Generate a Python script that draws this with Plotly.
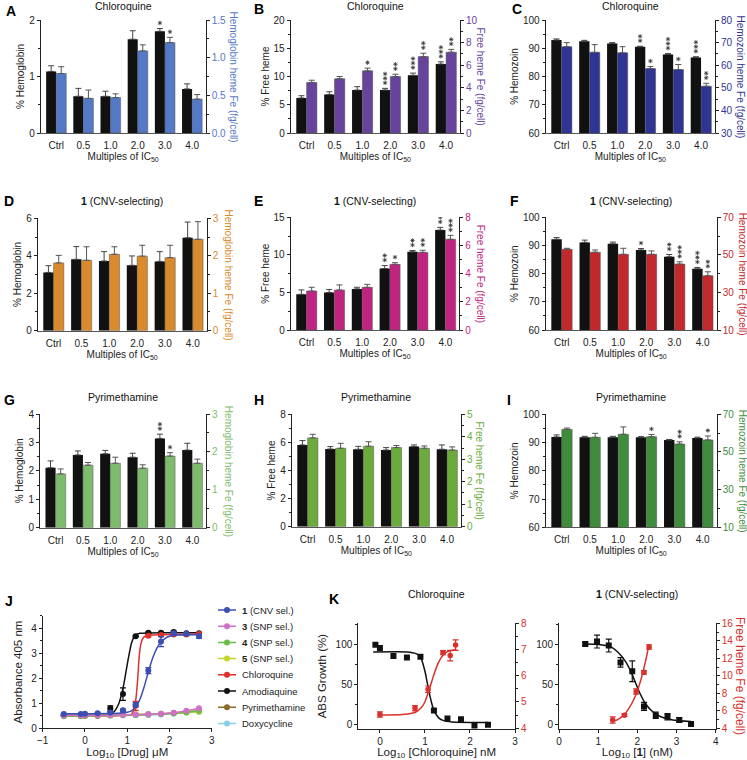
import plotly.graph_objects as go

W, H = 747, 760
FONT = "Liberation Sans, Arial, sans-serif"

categories = ["Ctrl", "0.5", "1.0", "2.0", "3.0", "4.0"]
no_stars = [0, 0, 0, 0, 0, 0]

# A - chloroquine, hemoglobin
A_black = [1.09, 0.65, 0.65, 1.66, 1.80, 0.78]
A_black_err = [0.10, 0.14, 0.09, 0.15, 0.05, 0.09]
A_fe = [0.79, 0.46, 0.47, 1.09, 1.20, 0.45]
A_fe_err = [0.09, 0.11, 0.05, 0.08, 0.07, 0.06]
A_black_stars = [0, 0, 0, 0, 1, 0]
A_fe_stars = [0, 0, 0, 0, 1, 0]

# B - chloroquine, free heme
B_black = [6.2, 6.8, 7.6, 7.6, 10.2, 12.2]
B_black_err = [0.4, 0.5, 0.6, 0.3, 0.4, 0.4]
B_fe = [4.47, 4.8, 5.5, 5.0, 6.76, 7.15]
B_fe_err = [0.2, 0.2, 0.24, 0.2, 0.3, 0.25]
B_black_stars = [0, 0, 0, 3, 3, 3]
B_fe_stars = [0, 0, 1, 2, 2, 2]

# C - chloroquine, hemozoin
C_black = [92.9, 92.5, 91.7, 90.5, 87.8, 86.7]
C_black_err = [0.4, 0.3, 0.3, 0.2, 0.3, 0.3]
C_fe = [68.2, 65.7, 65.5, 58.5, 58.1, 50.7]
C_fe_err = [1.8, 3.4, 2.7, 0.9, 2.2, 1.3]
C_black_stars = [0, 0, 0, 2, 3, 3]
C_fe_stars = [0, 0, 0, 1, 1, 2]

# D - compound 1, hemoglobin
D_black = [3.11, 3.81, 3.72, 3.49, 3.70, 4.96]
D_black_err = [0.36, 0.68, 0.5, 0.5, 0.52, 0.84]
D_fe = [1.81, 1.88, 2.04, 1.99, 1.95, 2.44]
D_fe_err = [0.2, 0.36, 0.2, 0.29, 0.33, 0.47]

# E - compound 1, free heme
E_black = [4.75, 5.0, 5.47, 8.18, 10.4, 13.3]
E_black_err = [0.58, 0.4, 0.22, 0.4, 0.18, 0.36]
E_fe = [2.77, 2.84, 3.03, 4.66, 5.51, 6.44]
E_fe_err = [0.26, 0.36, 0.21, 0.12, 0.15, 0.28]
E_black_stars = [0, 0, 0, 2, 2, 4]
E_fe_stars = [0, 0, 0, 1, 2, 3]

# F - compound 1, hemozoin
F_black = [92.2, 91.1, 90.6, 88.4, 86.0, 81.7]
F_black_err = [0.6, 0.8, 0.6, 0.5, 0.8, 0.5]
F_fe = [53.0, 51.4, 50.3, 50.3, 45.1, 38.9]
F_fe_err = [0.5, 1.2, 3.2, 1.8, 1.2, 2.1]
F_black_stars = [0, 0, 0, 1, 2, 3]
F_fe_stars = [0, 0, 0, 0, 3, 2]

# G - pyrimethamine, hemoglobin
G_black = [2.11, 2.56, 2.60, 2.48, 3.14, 2.73]
G_black_err = [0.24, 0.14, 0.12, 0.14, 0.15, 0.24]
G_fe = [1.42, 1.65, 1.70, 1.57, 1.89, 1.70]
G_fe_err = [0.13, 0.07, 0.16, 0.09, 0.09, 0.11]
G_black_stars = [0, 0, 0, 0, 2, 0]
G_fe_stars = [0, 0, 0, 0, 1, 0]

# H - pyrimethamine, free heme
H_black = [5.82, 5.53, 5.51, 5.46, 5.70, 5.51]
H_black_err = [0.31, 0.17, 0.21, 0.17, 0.12, 0.31]
H_fe = [3.95, 3.49, 3.58, 3.52, 3.49, 3.41]
H_fe_err = [0.16, 0.22, 0.2, 0.09, 0.1, 0.14]

# I - pyrimethamine, hemozoin
I_black = [92.0, 91.9, 91.9, 91.9, 90.9, 91.6]
I_black_err = [0.7, 0.3, 0.3, 0.2, 0.2, 0.3]
I_fe = [62.0, 57.8, 59.4, 58.1, 54.2, 56.4]
I_fe_err = [0.7, 2.1, 3.9, 1.2, 1.2, 2.1]
I_fe_stars = [0, 0, 0, 1, 2, 1]

# J - absorbance vs log10 [drug]
J_x = [-0.5, -0.1, 0.0, 0.3, 0.6, 0.9, 1.2, 1.5, 1.8, 2.1, 2.4, 2.7]
J_cmpd1 = [0.57, 0.57, 0.58, 0.60, 0.63, 0.72, 0.94, 2.31, 3.47, 3.80, 3.78, 3.68]
J_cmpd1_err = [0.02, 0.02, 0.02, 0.02, 0.03, 0.05, 0.08, 0.12, 0.2, 0.05, 0.04, 0.08]
J_cmpd3 = [0.52, 0.52, 0.52, 0.52, 0.53, 0.54, 0.55, 0.56, 0.58, 0.62, 0.70, 0.80]
J_cmpd4 = [0.50, 0.50, 0.50, 0.51, 0.52, 0.53, 0.53, 0.55, 0.57, 0.60, 0.64, 0.70]
J_cmpd5 = [0.52, 0.52, 0.52, 0.52, 0.53, 0.54, 0.55, 0.56, 0.58, 0.60, 0.63, 0.66]
J_chloroquine = [0.50, 0.50, 0.50, 0.50, 0.52, 0.55, 0.90, 3.70, 3.73, 3.75, 3.75, 3.77]
J_chloroquine_err = [0.02, 0.02, 0.02, 0.02, 0.02, 0.03, 0.18, 0.05, 0.04, 0.04, 0.04, 0.04]
J_amodiaquine = [0.52, 0.52, 0.52, 0.52, 0.80, 1.37, 3.68, 3.82, 3.82, 3.85, 3.80, 3.80]
J_amodiaquine_err = [0.02, 0.02, 0.02, 0.02, 0.10, 0.25, 0.03, 0.03, 0.03, 0.04, 0.03, 0.03]
J_pyrimethamine = [0.52, 0.52, 0.52, 0.53, 0.53, 0.54, 0.55, 0.56, 0.58, 0.61, 0.65, 0.70]
J_doxycycline = [0.48, 0.48, 0.49, 0.49, 0.50, 0.51, 0.52, 0.53, 0.55, 0.58, 0.62, 0.66]
# fitted curves
J_fit1_x = [-0.5, 0.8, 1.0, 1.1, 1.2, 1.3, 1.4, 1.5, 1.6, 1.7, 1.8, 1.9, 2.0, 2.2, 2.7]
J_fit1_y = [0.58, 0.60, 0.64, 0.70, 0.85, 1.15, 1.65, 2.25, 2.80, 3.20, 3.45, 3.60, 3.68, 3.73, 3.74]
J_fitcq_x = [-0.5, 1.0, 1.1, 1.15, 1.2, 1.25, 1.28, 1.32, 1.38, 1.45, 1.6, 2.7]
J_fitcq_y = [0.50, 0.52, 0.56, 0.72, 1.10, 2.00, 2.80, 3.35, 3.62, 3.70, 3.73, 3.77]
J_fitaq_x = [-0.5, 0.5, 0.6, 0.7, 0.8, 0.85, 0.9, 0.95, 1.0, 1.05, 1.1, 1.15, 1.2, 1.3, 2.7]
J_fitaq_y = [0.52, 0.53, 0.56, 0.68, 0.98, 1.25, 1.60, 2.05, 2.55, 3.00, 3.40, 3.62, 3.73, 3.80, 3.82]

# K - growth and free heme vs log10 concentration
K1_x = [-0.1, 0.0, 0.3, 0.6, 0.9, 1.2, 1.5, 1.8, 2.1, 2.4]
K1_growth = [99, 95, 85, 83, 84, 17, 7, 6, -2, -1]
K1_fit_x = [-0.15, 0.6, 0.8, 0.9, 1.0, 1.05, 1.1, 1.15, 1.2, 1.3, 1.4, 1.6, 2.4]
K1_fit_y = [90, 90, 88, 84, 66, 52, 38, 26, 17, 8, 4.5, 2.5, 2]
K1_heme_x = [0.0, 0.78, 1.07, 1.4, 1.56, 1.68]
K1_heme = [4.52, 4.76, 5.49, 6.88, 6.77, 7.17]
K1_heme_err = [0.1, 0.1, 0.12, 0.08, 0.2, 0.2]
K1_heme_fit_x = [0.0, 0.5, 0.8, 0.9, 1.0, 1.1, 1.2, 1.3, 1.4, 1.5, 1.7]
K1_heme_fit_y = [4.50, 4.52, 4.62, 4.75, 5.0, 5.5, 6.05, 6.5, 6.78, 6.92, 7.0]

K2_x = [0.67, 0.97, 1.27, 1.57, 1.87, 2.17, 2.47, 2.77, 3.07, 3.37]
K2_growth = [100, 103, 98, 77, 66, 22, 11, 9, 5, 0]
K2_growth_err = [2, 8, 8, 6, 13, 5, 4, 4, 3, 1]
K2_fit_x = [0.67, 1.0, 1.3, 1.5, 1.7, 1.85, 1.95, 2.05, 2.2, 2.4, 2.6, 2.9, 3.37]
K2_fit_y = [100, 99.5, 97, 90, 78, 64, 52, 40, 26, 15, 9, 5, 3]
K2_heme_x = [1.37, 1.67, 1.97, 2.17, 2.3]
K2_heme = [4.95, 5.5, 8.2, 10.4, 13.3]
K2_heme_err = [0.35, 0.15, 0.3, 0.2, 0.25]
K2_heme_fit_x = [1.37, 1.5, 1.65, 1.8, 1.9, 2.0, 2.1, 2.2, 2.3]
K2_heme_fit_y = [4.8, 5.0, 5.5, 6.4, 7.2, 8.3, 9.7, 11.5, 13.6]


def ax_id(kind, i):
    return kind if i == 1 else f"{kind}{i}"


def ax_key(kind, i):
    return kind + "axis" + ("" if i == 1 else str(i))


def px(v):
    return v / W


def py(v):
    return 1 - v / H


axis_common = dict(showgrid=False, zeroline=False, showline=True, linecolor="#222", linewidth=1,
                   ticks="outside", ticklen=3, tickcolor="#222", tickfont=dict(size=10, color="#222"),
                   automargin=False)

bar_panels = [
    dict(letter="A", title="Chloroquine", black=A_black, black_err=A_black_err, fe=A_fe, fe_err=A_fe_err,
         black_stars=A_black_stars, fe_stars=A_fe_stars, left_title="% Hemoglobin",
         right_title="Hemoglobin heme Fe (fg/cell)", left=(0, 2, 1, 0.5, ""), right=(0, 1.5, 0.5, 0.25, ".1f"),
         color="#5479c6", box=(40.7, 205.7, 20, 133), rtitle_x=233, letter_xy=(4, 11), title_y=6),
    dict(letter="B", title="Chloroquine", black=B_black, black_err=B_black_err, fe=B_fe, fe_err=B_fe_err,
         black_stars=B_black_stars, fe_stars=B_fe_stars, left_title="% Free heme",
         right_title="Free heme Fe (fg/cell)", left=(0, 20, 5, 2.5, ""), right=(0, 10, 2, 1, ""),
         color="#67439c", box=(290.7, 460, 20, 133), rtitle_x=480, letter_xy=(252, 9), title_y=6),
    dict(letter="C", title="Chloroquine", black=C_black, black_err=C_black_err, fe=C_fe, fe_err=C_fe_err,
         black_stars=C_black_stars, fe_stars=C_fe_stars, left_title="% Hemozoin",
         right_title="Hemozoin heme Fe (fg/cell)", left=(60, 100, 10, 5, ""), right=(30, 80, 10, 5, ""),
         color="#2f3592", box=(545.7, 715, 20, 133), rtitle_x=740, letter_xy=(510, 9), title_y=6),
    dict(letter="D", title="<b>1</b> (CNV-selecting)", black=D_black, black_err=D_black_err, fe=D_fe, fe_err=D_fe_err,
         black_stars=no_stars, fe_stars=no_stars, left_title="% Hemoglobin",
         right_title="Hemoglobin heme Fe (fg/cell)", left=(0, 6, 2, 1, ""), right=(0, 3, 1, 0.5, ""),
         color="#d98a2c", box=(37.7, 206.7, 218.3, 330.7), rtitle_x=228, letter_xy=(2, 201), title_y=201),
    dict(letter="E", title="<b>1</b> (CNV-selecting)", black=E_black, black_err=E_black_err, fe=E_fe, fe_err=E_fe_err,
         black_stars=E_black_stars, fe_stars=E_fe_stars, left_title="% Free heme",
         right_title="Free heme Fe (fg/cell)", left=(0, 15, 5, 2.5, ""), right=(0, 8, 2, 1, ""),
         color="#bf2580", box=(290.7, 459.3, 217.3, 330), rtitle_x=480, letter_xy=(252, 201), title_y=201),
    dict(letter="F", title="<b>1</b> (CNV-selecting)", black=F_black, black_err=F_black_err, fe=F_fe, fe_err=F_fe_err,
         black_stars=F_black_stars, fe_stars=F_fe_stars, left_title="% Hemozoin",
         right_title="Hemozoin heme Fe (fg/cell)", left=(60, 100, 10, 5, ""), right=(10, 70, 20, 10, ""),
         color="#c1292d", box=(545.7, 716.7, 217.3, 330), rtitle_x=742, letter_xy=(508, 201), title_y=201),
    dict(letter="G", title="Pyrimethamine", black=G_black, black_err=G_black_err, fe=G_fe, fe_err=G_fe_err,
         black_stars=G_black_stars, fe_stars=G_fe_stars, left_title="% Hemoglobin",
         right_title="Hemoglobin heme Fe (fg/cell)", left=(0, 4, 1, 0.5, ""), right=(0, 3, 1, 0.5, ""),
         color="#7dbc6c", box=(40, 206, 414, 527.7), rtitle_x=228, letter_xy=(2, 400), title_y=397),
    dict(letter="H", title="Pyrimethamine", black=H_black, black_err=H_black_err, fe=H_fe, fe_err=H_fe_err,
         black_stars=no_stars, fe_stars=no_stars, left_title="% Free heme",
         right_title="Free heme Fe (fg/cell)", left=(0, 8, 2, 1, ""), right=(0, 5, 1, 0.5, ""),
         color="#6aab3b", box=(291.7, 461, 414.3, 526.7), rtitle_x=479, letter_xy=(252, 400), title_y=397),
    dict(letter="I", title="Pyrimethamine", black=I_black, black_err=I_black_err, fe=I_fe, fe_err=I_fe_err,
         black_stars=no_stars, fe_stars=I_fe_stars, left_title="% Hemozoin",
         right_title="Hemozoin heme Fe (fg/cell)", left=(60, 100, 10, 5, ""), right=(10, 70, 20, 10, ""),
         color="#3f8d3c", box=(545.7, 716.7, 414.3, 527.3), rtitle_x=742, letter_xy=(505, 400), title_y=397),
]

fig = go.Figure()
layout = {}
annotations = []
cat_pos = list(range(len(categories)))


def add_letter(text, x, y):
    annotations.append(dict(text=f"<b>{text}</b>", x=px(x), y=py(y), xref="paper", yref="paper",
                            xanchor="left", yanchor="middle", showarrow=False, font=dict(size=14, color="#000")))


def add_title(text, x, y, size=10.5):
    annotations.append(dict(text=text, x=px(x), y=py(y), xref="paper", yref="paper",
                            xanchor="center", yanchor="middle", showarrow=False, font=dict(size=size, color="#111")))


def add_stars(values, errs, stars, xa, ya, shift, lo, hi, height):
    # significance asterisks stacked above the error bar, 4.5 px apart
    unit = (hi - lo) / height
    xs, ys = [], []
    for j, n in enumerate(stars):
        for s in range(n):
            xs.append(cat_pos[j] + shift)
            ys.append(values[j] + errs[j] + (5.5 + 4.5 * s) * unit)
    if xs:
        fig.add_trace(go.Scatter(x=xs, y=ys, mode="markers", xaxis=xa, yaxis=ya, showlegend=False,
                                 hoverinfo="skip",
                                 marker=dict(symbol="asterisk-open", size=3.6, color="#333",
                                             line=dict(width=0.8, color="#333"))))


def add_bar_panel(n, p):
    xi, yl, yr = n + 1, 2 * n + 1, 2 * n + 2
    xa, ya_l, ya_r = ax_id("x", xi), ax_id("y", yl), ax_id("y", yr)
    zeros = [0] * len(categories)
    fig.add_trace(go.Bar(x=cat_pos, y=p["black"], marker=dict(color="#111111", line=dict(width=0)),
                         width=0.37, offset=-0.37, xaxis=xa, yaxis=ya_l, showlegend=False,
                         error_y=dict(type="data", array=p["black_err"], arrayminus=zeros, symmetric=False,
                                      color="#444", thickness=1, width=3)))
    fig.add_trace(go.Bar(x=cat_pos, y=p["fe"], marker=dict(color=p["color"], line=dict(width=0.5, color="#555")),
                         width=0.37, offset=0.0, xaxis=xa, yaxis=ya_r, showlegend=False,
                         error_y=dict(type="data", array=p["fe_err"], arrayminus=zeros, symmetric=False,
                                      color="#555", thickness=1, width=3)))
    l, r, t, b = p["box"]
    lo, hi, dt, mdt, fmt = p["left"]
    rlo, rhi, rdt, rmdt, rfmt = p["right"]
    layout[ax_key("x", xi)] = dict(domain=[px(l), px(r)], anchor=ya_l, range=[-0.57, 5.5],
                                   tickvals=cat_pos, ticktext=categories, automargin=False,
                                   showgrid=False, zeroline=False, showline=True, linecolor="#555", ticks="",
                                   tickfont=dict(size=10, color="#222"), ticklabelstandoff=3,
                                   title=dict(text="Multiples of IC<sub>50</sub>", font=dict(size=10, color="#222"),
                                              standoff=2))
    layout[ax_key("y", yl)] = dict(domain=[py(b), py(t)], anchor=xa, range=[lo, hi], dtick=dt, tick0=lo,
                                   tickformat=fmt, minor=dict(dtick=mdt, tick0=lo, ticks="outside", ticklen=2,
                                                              tickcolor="#222"),
                                   title=dict(text=p["left_title"], font=dict(size=10, color="#222"), standoff=2),
                                   **axis_common)
    right_style = dict(axis_common)
    right_style["tickfont"] = dict(size=10, color=p["color"])
    layout[ax_key("y", yr)] = dict(domain=[py(b), py(t)], anchor=xa, overlaying=ya_l, side="right",
                                   range=[rlo, rhi], dtick=rdt, tick0=rlo, tickformat=rfmt,
                                   minor=dict(dtick=rmdt, tick0=rlo, ticks="outside", ticklen=2, tickcolor="#222"),
                                   **right_style)
    annotations.append(dict(text=p["right_title"], x=px(p["rtitle_x"]), y=py((t + b) / 2), xref="paper",
                            yref="paper", textangle=90, xanchor="center", yanchor="middle", showarrow=False,
                            font=dict(size=10, color=p["color"])))
    add_stars(p["black"], p["black_err"], p["black_stars"], xa, ya_l, -0.185, lo, hi, b - t)
    add_stars(p["fe"], p["fe_err"], p["fe_stars"], xa, ya_r, 0.185, rlo, rhi, b - t)
    add_title(p["title"], (l + r) / 2, p["title_y"])
    add_letter(p["letter"], *p["letter_xy"])


for n, p in enumerate(bar_panels):
    add_bar_panel(n, p)

# ---- J ----
jx, jy = "x10", "y19"
j_series = [
    ("<b>1</b> (CNV sel.)", J_cmpd1, J_cmpd1_err, "#3b4fb2", J_fit1_x, J_fit1_y),
    ("<b>3</b> (SNP sel.)", J_cmpd3, None, "#d070c6", None, None),
    ("<b>4</b> (SNP sel.)", J_cmpd4, None, "#6bbd46", None, None),
    ("<b>5</b> (SNP sel.)", J_cmpd5, None, "#c4d42f", None, None),
    ("Chloroquine", J_chloroquine, J_chloroquine_err, "#e0302b", J_fitcq_x, J_fitcq_y),
    ("Amodiaquine", J_amodiaquine, J_amodiaquine_err, "#111111", J_fitaq_x, J_fitaq_y),
    ("Pyrimethamine", J_pyrimethamine, None, "#8c6a2a", None, None),
    ("Doxycycline", J_doxycycline, None, "#88d0e6", None, None),
]
for name, ys, err, col, fx, fy in reversed(j_series):
    if fx is None:
        fx, fy = J_x, ys
    fig.add_trace(go.Scatter(x=fx, y=fy, mode="lines", line=dict(color=col, width=1.5, shape="spline", smoothing=0.6),
                             xaxis=jx, yaxis=jy, showlegend=False, hoverinfo="skip"))
    fig.add_trace(go.Scatter(x=J_x, y=ys, mode="markers", marker=dict(color=col, size=6), xaxis=jx, yaxis=jy,
                             showlegend=False,
                             error_y=dict(type="data", array=err, color=col, thickness=1.2, width=3,
                                          visible=err is not None)))

layout["xaxis10"] = dict(domain=[px(42.7), px(211.7)], anchor=jy, range=[-1, 3], dtick=1,
                         title=dict(text="Log<sub>10</sub> [Drug] \u03bcM", font=dict(size=11.5, color="#222"),
                                    standoff=3), **axis_common)
layout["yaxis19"] = dict(domain=[py(728.3), py(615.8)], anchor=jx, range=[0, 4.5], dtick=1,
                         minor=dict(dtick=0.5, ticks="outside", ticklen=2, tickcolor="#222"),
                         title=dict(text="Absorbance 405 nm", font=dict(size=11.5, color="#222"), standoff=6),
                         **axis_common)
add_letter("J", 3, 601)

# legend for J drawn on its own hidden axes (one row per series)
lx, ly = "x13", "y24"
for k, (name, ys, err, col, fx, fy) in enumerate(j_series):
    fig.add_trace(go.Scatter(x=[0, 1], y=[k, k], mode="lines", line=dict(color=col, width=1.5),
                             xaxis=lx, yaxis=ly, showlegend=False, hoverinfo="skip"))
    fig.add_trace(go.Scatter(x=[0.5], y=[k], mode="markers", marker=dict(color=col, size=6),
                             xaxis=lx, yaxis=ly, showlegend=False, hoverinfo="skip"))
    annotations.append(dict(text=name, x=1, y=k, xref=lx, yref=ly, xanchor="left", yanchor="middle",
                            xshift=4, showarrow=False, font=dict(size=9.5, color="#222")))
layout["xaxis13"] = dict(domain=[px(218), px(236)], anchor=ly, range=[0, 1], visible=False)
layout["yaxis24"] = dict(domain=[py(731.5), py(601.9)], anchor=lx, range=[len(j_series) - 0.5, -0.5],
                         visible=False)

# ---- K ----
red = "#d9302c"
k_panels = [
    dict(x="x11", y="y20", y2="y21", xi=11, yi=20, box=(358.3, 515), xrange=[-0.48, 3], y2range=[3.97, 8.0],
         y2dtick=1, y2minor=0.5, gx=K1_x, gy=K1_growth, gerr=None, fx=K1_fit_x, fy=K1_fit_y,
         hx=K1_heme_x, hy=K1_heme, herr=K1_heme_err, hfx=K1_heme_fit_x, hfy=K1_heme_fit_y,
         title="Chloroquine", xtitle="Log<sub>10</sub> [Chloroquine] nM", ytitle="ABS Growth (%)"),
    dict(x="x12", y="y22", y2="y23", xi=12, yi=22, box=(559, 715.7), xrange=[0, 4], y2range=[3.92, 16.0],
         y2dtick=2, y2minor=1, gx=K2_x, gy=K2_growth, gerr=K2_growth_err, fx=K2_fit_x, fy=K2_fit_y,
         hx=K2_heme_x, hy=K2_heme, herr=K2_heme_err, hfx=K2_heme_fit_x, hfy=K2_heme_fit_y,
         title="<b>1</b> (CNV-selecting)", xtitle="Log<sub>10</sub> [<b>1</b>] (nM)", ytitle=None),
]
for k in k_panels:
    fig.add_trace(go.Scatter(x=k["fx"], y=k["fy"], mode="lines", line=dict(color="#111", width=1.5, shape="spline",
                                                                            smoothing=0.6),
                             xaxis=k["x"], yaxis=k["y"], showlegend=False, hoverinfo="skip"))
    fig.add_trace(go.Scatter(x=k["gx"], y=k["gy"], mode="markers", marker=dict(color="#111", size=6, symbol="square"),
                             xaxis=k["x"], yaxis=k["y"], showlegend=False,
                             error_y=dict(type="data", array=k["gerr"], color="#111", thickness=1.2, width=3,
                                          visible=k["gerr"] is not None)))
    fig.add_trace(go.Scatter(x=k["hfx"], y=k["hfy"], mode="lines", line=dict(color=red, width=1.5, shape="spline",
                                                                              smoothing=0.6),
                             xaxis=k["x"], yaxis=k["y2"], showlegend=False, hoverinfo="skip"))
    fig.add_trace(go.Scatter(x=k["hx"], y=k["hy"], mode="markers", marker=dict(color=red, size=5.5),
                             xaxis=k["x"], yaxis=k["y2"], showlegend=False,
                             error_y=dict(type="data", array=k["herr"], color=red, thickness=1.2, width=3)))
    l, r = k["box"]
    layout[ax_key("x", k["xi"])] = dict(domain=[px(l), px(r)], anchor=k["y"], range=k["xrange"], tickvals=[0, 1, 2, 3, 4],
                                        title=dict(text=k["xtitle"], font=dict(size=11.5, color="#222"), standoff=3),
                                        **axis_common)
    yleft = dict(domain=[py(729), py(623.3)], anchor=k["x"], range=[-6.25, 125.9], tickvals=[0, 50, 100],
                 minor=dict(tickvals=[25, 75, 125], ticks="outside", ticklen=2, tickcolor="#222"), **axis_common)
    if k["ytitle"]:
        yleft["title"] = dict(text=k["ytitle"], font=dict(size=11.5, color="#222"), standoff=6)
    layout[ax_key("y", k["yi"])] = yleft
    right_style = dict(axis_common)
    right_style["tickfont"] = dict(size=10, color=red)
    layout[ax_key("y", k["yi"] + 1)] = dict(domain=[py(729), py(623.3)], anchor=k["x"], overlaying=k["y"],
                                            side="right", range=k["y2range"], dtick=k["y2dtick"], tick0=4,
                                            minor=dict(dtick=k["y2minor"], tick0=4, ticks="outside", ticklen=2,
                                                       tickcolor="#222"),
                                            **right_style)
    add_title(k["title"], (l + r) / 2, 594)

annotations.append(dict(text="Free heme Fe (fg/cell)", x=px(740), y=py(676), xref="paper", yref="paper",
                        textangle=90, xanchor="center", yanchor="middle", showarrow=False,
                        font=dict(size=12, color=red)))
add_letter("K", 327, 599)

fig.update_layout(
    width=W, height=H, margin=dict(l=0, r=0, t=0, b=0, pad=0, autoexpand=False),
    paper_bgcolor="white", plot_bgcolor="white",
    font=dict(family=FONT, size=10, color="#222"),
    showlegend=False,
    annotations=annotations,
    **layout,
)

# page body has a default 8px margin; drop it so the figure fills the window exactly
fig.write_html("out.html", config={"displayModeBar": False},
               post_script="document.body.style.margin = '0';")
